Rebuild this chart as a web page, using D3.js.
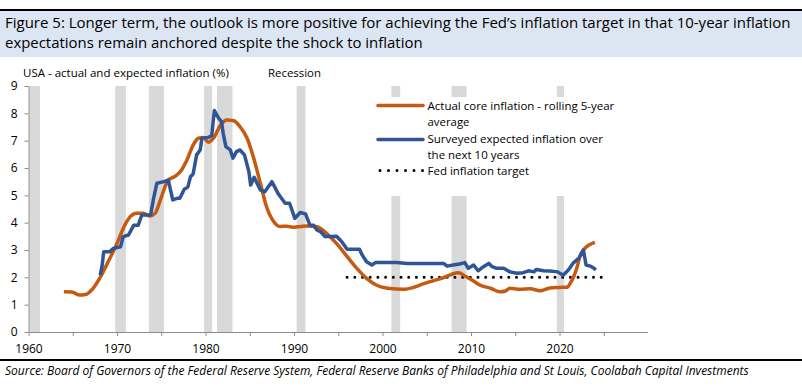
<!DOCTYPE html>
<html>
<head>
<meta charset="utf-8">
<script src="https://cdn.jsdelivr.net/npm/d3@7/dist/d3.min.js"></script>
<style>
  body { margin: 0; background: #fff; }
  text { font-family: "Open Sans", "Noto Sans", sans-serif; fill: #000; }
</style>
</head>
<body>
<div id="chart"></div>
<script>
/* chart values */
var recessions = [[1960.1, 1961.3], [1969.8, 1971.0], [1973.6, 1975.3], [1979.85, 1980.75],
                  [1981.3, 1983.05], [1990.3, 1991.3], [2001.0, 2002.0], [2007.8, 2009.5], [2019.7, 2020.5]];

var coreInflation = [[1964.0,1.47],[1964.9,1.46],[1965.8,1.35],[1966.4,1.37],[1967.3,1.6],[1968.1,2.0],
  [1969.0,2.57],[1970.0,3.24],[1970.7,3.79],[1971.5,4.22],[1972.2,4.34],[1973.0,4.34],[1973.7,4.24],
  [1974.3,4.34],[1974.9,4.83],[1975.3,5.2],[1975.8,5.56],[1976.6,5.7],[1977.3,5.93],[1977.9,6.29],
  [1978.6,6.84],[1979.2,7.09],[1979.8,7.12],[1980.3,6.94],[1980.9,7.09],[1981.7,7.57],[1982.4,7.76],
  [1983.2,7.73],[1983.9,7.51],[1984.7,7.09],[1985.4,6.41],[1986.2,5.44],[1986.9,4.58],[1987.7,4.04],
  [1988.4,3.86],[1989.2,3.87],[1990.0,3.83],[1990.8,3.86],[1991.5,3.88],[1992.6,3.85],[1993.7,3.6],
  [1994.8,3.24],[1996.0,2.76],[1997.1,2.33],[1998.2,1.96],[1999.4,1.7],[2000.6,1.6],[2002.4,1.56],
  [2003.5,1.63],[2004.6,1.76],[2005.8,1.88],[2006.9,1.99],[2007.8,2.11],[2008.6,2.17],[2009.3,2.05],
  [2010.1,1.9],[2011.0,1.72],[2012.2,1.6],[2013.3,1.47],[2013.9,1.5],[2014.4,1.6],[2015.5,1.56],
  [2016.7,1.58],[2017.8,1.51],[2018.9,1.61],[2020.0,1.63],[2020.9,1.64],[2021.2,1.78],[2021.6,2.02],
  [2022.0,2.39],[2022.3,2.76],[2022.7,3.0],[2023.3,3.18],[2024.0,3.28]];

var expectedInflation = [[1968.1,2.08],[1968.3,2.39],[1968.5,2.94],[1969.2,2.94],[1969.6,3.06],
  [1970.4,3.12],[1970.7,3.49],[1971.3,3.55],[1971.7,3.79],[1971.9,3.91],[1972.4,3.91],[1972.8,4.28],
  [1973.8,4.28],[1974.1,4.83],[1974.5,5.44],[1975.3,5.5],[1975.8,5.56],[1976.0,5.26],[1976.3,4.83],
  [1976.8,4.89],[1977.1,4.89],[1977.6,5.22],[1978.0,5.3],[1978.3,5.68],[1978.6,5.78],[1979.0,6.48],
  [1979.4,6.66],[1979.6,7.09],[1980.3,7.12],[1980.7,7.18],[1981.0,8.1],[1981.5,7.82],[1981.8,7.7],
  [1982.0,7.27],[1982.3,6.78],[1982.8,6.66],[1983.1,6.36],[1983.5,6.6],[1983.9,6.66],[1984.4,6.48],
  [1984.9,5.87],[1985.1,5.38],[1985.5,5.66],[1986.2,5.2],[1986.7,5.13],[1987.5,5.5],[1988.2,5.07],
  [1989.0,4.71],[1989.5,4.71],[1990.1,4.16],[1990.7,4.37],[1991.3,4.32],[1991.8,3.91],[1992.2,3.91],
  [1992.6,3.73],[1993.0,3.67],[1993.5,3.49],[1994.3,3.49],[1994.8,3.5],[1995.4,3.3],[1996.0,3.03],
  [1997.4,3.03],[1997.7,2.82],[1998.2,2.57],[1998.8,2.45],[1999.2,2.54],[2001.6,2.54],[2002.8,2.51],
  [2006.9,2.51],[2007.3,2.41],[2008.0,2.45],[2008.7,2.49],[2009.3,2.54],[2009.7,2.33],[2010.3,2.45],
  [2010.8,2.24],[2011.4,2.39],[2012.0,2.51],[2012.4,2.39],[2012.9,2.33],[2013.7,2.33],[2014.4,2.2],
  [2015.2,2.15],[2015.9,2.17],[2016.5,2.24],[2017.1,2.2],[2017.4,2.29],[2018.2,2.24],[2018.9,2.23],
  [2019.8,2.2],[2020.4,2.08],[2021.0,2.27],[2021.6,2.54],[2022.2,2.7],[2022.7,3.0],[2023.0,2.45],
  [2023.5,2.41],[2023.9,2.33],[2024.1,2.27]];

var fedTarget = [[1996, 2], [2024.75, 2]];

var yTicks = [0, 1, 2, 3, 4, 5, 6, 7, 8, 9];
var xLabels = [1960, 1970, 1980, 1990, 2000, 2010, 2020];
var xTicks = d3.range(1960, 2030, 5);

var titleLines = ["Figure 5: Longer term, the outlook is more positive for achieving the Fed\u2019s inflation target in that 10-year inflation",
                  "expectations remain anchored despite the shock to inflation"];
var legendLabels = [["Actual core inflation - rolling 5-year", "average"],
                    ["Surveyed expected inflation over", "the next 10 years"],
                    ["Fed inflation target"]];
var sourceText = "Source: Board of Governors of the Federal Reserve System, Federal Reserve Banks of Philadelphia and St Louis, Coolabah Capital Investments";

var width = 802,
    height = 388;

var orange = "#c55a11",
    blue = "#2f5597",
    axisGrey = "#8c8c8c";

var svg = d3.select("#chart")
    .append("svg")
    .attr("width", width)
    .attr("height", height);

/* put a text down, squeezed sideways to a given width (the source font is narrower) */
var fitText = function(x, y, str, len, size, italic) {
    var t = svg.append("text")
        .attr("x", 0)
        .attr("y", 0)
        .style("font-size", size + "px")
        .style("font-style", italic ? "italic" : "normal")
        .text(str);
    var k = Math.min(1, len / t.node().getComputedTextLength());
    t.attr("transform", "translate(" + x + "," + y + ") scale(" + k + ",1)");
    return t;
};

/* title band */
svg.append("rect").attr("x", 0).attr("y", 9).attr("width", width).attr("height", 2).attr("fill", "#000");
svg.append("rect").attr("x", 0).attr("y", 11).attr("width", width).attr("height", 46).attr("fill", "#dce6f2");
fitText(5, 27.5, titleLines[0], 788, 15);
fitText(5, 48, titleLines[1], 418, 15);

/* scales */
var x = d3.scaleLinear().domain([1960, 2030]).range([28.5, 648]);
var y = d3.scaleLinear().domain([0, 9]).range([332, 86]);

/* recession shading */
svg.append("g")
    .selectAll("rect")
    .data(recessions)
    .enter().append("rect")
    .attr("x", function(d) { return x(d[0]); })
    .attr("width", function(d) { return x(d[1]) - x(d[0]); })
    .attr("y", y(9))
    .attr("height", y(0) - y(9))
    .attr("fill", "#d9d9d9");

/* legend background hides the bands behind it */
svg.append("rect")
    .attr("x", 372).attr("y", 97)
    .attr("width", 268).attr("height", 99)
    .attr("fill", "#fff");

/* axes */
var yAxis = d3.axisLeft(y).tickValues(yTicks).tickSize(4).tickPadding(7).tickFormat(d3.format("d"));
var xAxis = d3.axisBottom(x).tickValues(xTicks).tickSize(4).tickPadding(8)
    .tickFormat(function(d) { return xLabels.indexOf(d) >= 0 ? d : ""; });

var gy = svg.append("g").attr("transform", "translate(" + x(1960) + ",0)").call(yAxis);
var gx = svg.append("g").attr("transform", "translate(0," + y(0) + ")").call(xAxis);

[gx, gy].forEach(function(g) {
    g.select(".domain").attr("stroke", axisGrey);
    g.selectAll(".tick line").attr("stroke", axisGrey);
    g.selectAll(".tick text").style("font-size", "12px").style("font-family", "'Open Sans', sans-serif").attr("fill", "#000");
});
gy.select(".domain").attr("d", "M0.5," + y(9) + "V" + y(0));
gx.select(".domain").attr("d", "M" + x(1960) + ",0.5H" + x(2030));
gx.selectAll(".tick text").attr("dy", "0.75em");

/* lines */
var line = d3.line()
    .x(function(d) { return x(d[0]); })
    .y(function(d) { return y(d[1]); });

svg.append("path")
    .datum(fedTarget)
    .attr("d", line)
    .attr("fill", "none")
    .attr("stroke", "#000")
    .attr("stroke-width", 3)
    .attr("stroke-linecap", "round")
    .attr("stroke-dasharray", "0 7.7");

svg.append("path")
    .datum(coreInflation)
    .attr("d", line.curve(d3.curveMonotoneX))
    .attr("fill", "none")
    .attr("stroke", orange)
    .attr("stroke-width", 3.5)
    .attr("stroke-linejoin", "round");

svg.append("path")
    .datum(expectedInflation)
    .attr("d", line.curve(d3.curveLinear))
    .attr("fill", "none")
    .attr("stroke", blue)
    .attr("stroke-width", 3.5)
    .attr("stroke-linejoin", "round");

/* chart labels */
fitText(23, 77, "USA - actual and expected inflation (%)", 209, 11.5);
fitText(268, 77, "Recession", 53, 11.5);

/* legend */
var leg = svg.append("g");
leg.append("line").attr("x1", 378).attr("x2", 423).attr("y1", 105.5).attr("y2", 105.5)
    .attr("stroke", orange).attr("stroke-width", 3.5).attr("stroke-linecap", "round");
leg.append("line").attr("x1", 378).attr("x2", 423).attr("y1", 139.5).attr("y2", 139.5)
    .attr("stroke", blue).attr("stroke-width", 3.5).attr("stroke-linecap", "round");
leg.append("line").attr("x1", 380).attr("x2", 423).attr("y1", 170.5).attr("y2", 170.5)
    .attr("stroke", "#000").attr("stroke-width", 3).attr("stroke-linecap", "round")
    .attr("stroke-dasharray", "0 8.5");

fitText(427.5, 110, legendLabels[0][0], 190, 11.5);
fitText(427.5, 126, legendLabels[0][1], 42, 11.5);
fitText(427.5, 143, legendLabels[1][0], 177, 11.5);
fitText(427.5, 158.5, legendLabels[1][1], 92, 11.5);
fitText(427.5, 174.5, legendLabels[2][0], 102, 11.5);

/* footer */
svg.append("rect").attr("x", 0).attr("y", 359).attr("width", width).attr("height", 2).attr("fill", "#000");
fitText(5, 375, sourceText, 746, 12, true);
</script>
</body>
</html>
